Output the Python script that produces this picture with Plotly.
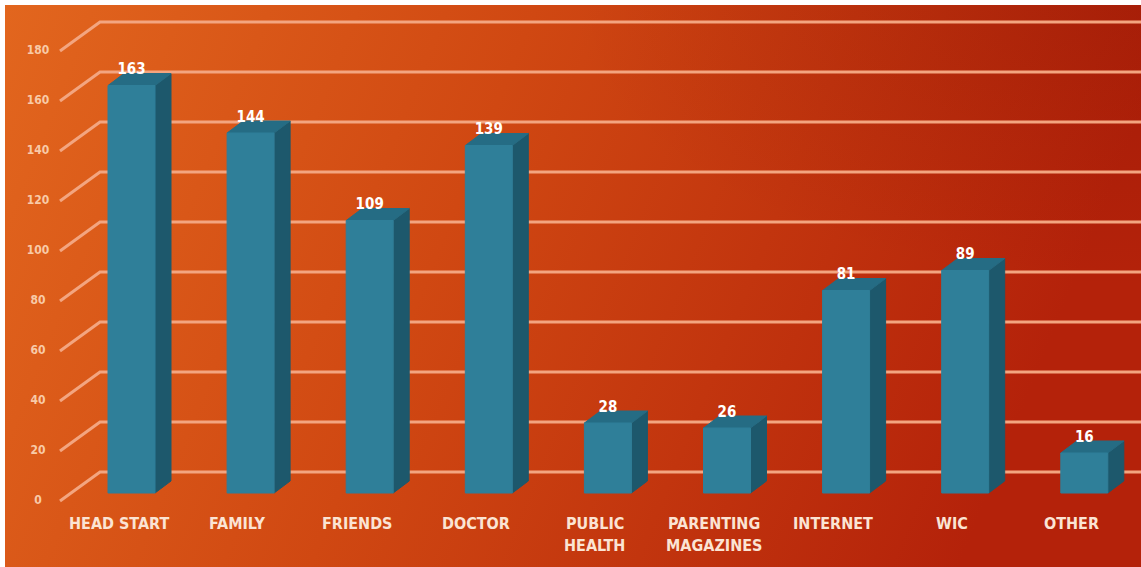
import base64
import plotly.graph_objects as go

# ---- data ----
categories = ["HEAD START", "FAMILY", "FRIENDS", "DOCTOR", "PUBLIC<br>HEALTH",
              "PARENTING<br>MAGAZINES", "INTERNET", "WIC", "OTHER"]
counts = [163, 144, 109, 139, 28, 26, 81, 89, 16]
tick_values = [0, 20, 40, 60, 80, 100, 120, 140, 160, 180]

# ---- geometry (pixel layout -> axis units) ----
W, H = 1141, 567
X0_PX, X_STEP_PX = 131.5, 119.1      # centre of first bar, spacing between bars
Y0_PX, Y_PX_PER_UNIT = 493.0, 2.5    # baseline of the bar front plane, pixels per unit


def px_to_x(px):
    return (px - X0_PX) / X_STEP_PX


def px_to_y(py):
    return (Y0_PX - py) / Y_PX_PER_UNIT


BAR_W = 47 / X_STEP_PX               # width of front face
DEPTH_X = 16 / X_STEP_PX             # 3-D depth offset
DEPTH_Y = 12 / Y_PX_PER_UNIT
WALL_BACK = 21 / Y_PX_PER_UNIT       # back wall sits this far above the bar front plane
WALL_FRONT = -8 / Y_PX_PER_UNIT      # front edge of the side wall

FRONT = "#2f7f99"
TOP = "#256c84"
SIDE = "#1d586c"
GRID = "#f3a580"
FONT = "DejaVu Sans Condensed, DejaVu Sans, sans-serif"

fig = go.Figure()

# background gradient as an svg image
svg = """<svg xmlns='http://www.w3.org/2000/svg' width='1136' height='562' viewBox='0 0 1136 562' preserveAspectRatio='none'>
<defs>
<linearGradient id='g' x1='0' y1='0' x2='1' y2='0.2'>
<stop offset='0' stop-color='#e2661e'/>
<stop offset='0.45' stop-color='#d04812'/>
<stop offset='1' stop-color='#b4220a'/>
</linearGradient>
<radialGradient id='r' cx='1' cy='0' r='0.5'>
<stop offset='0' stop-color='#7a0c00' stop-opacity='0.25'/>
<stop offset='1' stop-color='#7a0c00' stop-opacity='0'/>
</radialGradient>
</defs>
<rect width='1136' height='562' fill='url(#g)'/>
<rect width='1136' height='562' fill='url(#r)'/>
</svg>"""
svg_uri = "data:image/svg+xml;base64," + base64.b64encode(svg.encode()).decode()
fig.add_layout_image(dict(source=svg_uri, xref="paper", yref="paper",
                          x=5 / W, y=1 - 5 / H, sizex=1 - 5 / W, sizey=1 - 5 / H,
                          xanchor="left", yanchor="top", sizing="stretch", layer="below"))

# perspective gridlines: diagonal on the side wall + horizontal on the back wall
gx, gy = [], []
for t in tick_values:
    gx += [px_to_x(60), px_to_x(100), px_to_x(W + 5), None]
    gy += [t + WALL_FRONT, t + WALL_BACK, t + WALL_BACK, None]
fig.add_trace(go.Scatter(x=gx, y=gy, mode="lines", line=dict(color=GRID, width=3),
                         hoverinfo="skip", showlegend=False))

# y tick labels at the front of the side wall
fig.add_trace(go.Scatter(x=[px_to_x(38)] * len(tick_values), y=[t + WALL_FRONT for t in tick_values],
                         mode="text", text=[str(t) for t in tick_values],
                         textfont=dict(family=FONT, size=12, color="#f8caa8", weight="bold"),
                         hoverinfo="skip", showlegend=False))

xs = list(range(len(categories)))

# 3-D bars: side, top and front faces (outlined in their own colour to close seams)
for x, v in zip(xs, counts):
    l, r = x - BAR_W / 2, x + BAR_W / 2
    fig.add_trace(go.Scatter(
        x=[r, r + DEPTH_X, r + DEPTH_X, r, r],
        y=[0, DEPTH_Y, v + DEPTH_Y, v, 0],
        fill="toself", fillcolor=SIDE, mode="lines", line=dict(width=1, color=SIDE),
        hoverinfo="skip", showlegend=False))
    fig.add_trace(go.Scatter(
        x=[l, r, r + DEPTH_X, l + DEPTH_X, l],
        y=[v, v, v + DEPTH_Y, v + DEPTH_Y, v],
        fill="toself", fillcolor=TOP, mode="lines", line=dict(width=1, color=TOP),
        hoverinfo="skip", showlegend=False))
    fig.add_trace(go.Scatter(
        x=[l, r, r, l, l], y=[0, 0, v, v, 0],
        fill="toself", fillcolor=FRONT, mode="lines", line=dict(width=1, color=FRONT),
        hoverinfo="skip", showlegend=False))

# value labels
fig.add_trace(go.Scatter(x=xs, y=[v + 6 for v in counts], mode="text",
                         text=[str(v) for v in counts],
                         textfont=dict(family=FONT, size=15, color="white", weight="bold"),
                         hoverinfo="skip", showlegend=False))

# category labels
for x, name in zip(xs, categories):
    for i, line in enumerate(name.split("<br>")):
        fig.add_annotation(x=x - 13 / X_STEP_PX, y=px_to_y(523 + 22 * i), text=line,
                           showarrow=False, xanchor="center", yanchor="middle",
                           font=dict(family=FONT, size=16, color="#fbe4d4", weight="bold"))

fig.update_layout(
    width=W, height=H, margin=dict(l=0, r=0, t=0, b=0),
    paper_bgcolor="white", plot_bgcolor="rgba(0,0,0,0)",
    xaxis=dict(range=[px_to_x(0), px_to_x(W)], visible=False, fixedrange=True),
    yaxis=dict(range=[px_to_y(H), px_to_y(0)], visible=False, fixedrange=True),
)

fig.write_html("out.html")
